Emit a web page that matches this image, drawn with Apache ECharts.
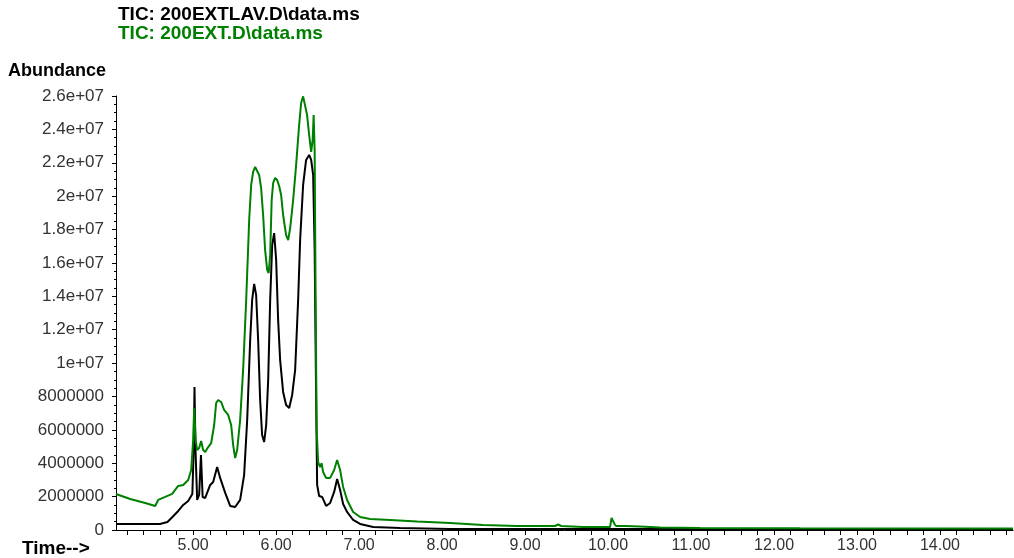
<!DOCTYPE html>
<html>
<head>
<meta charset="utf-8">
<script src="https://cdn.jsdelivr.net/npm/echarts@6/dist/echarts.min.js"></script>
<style>
  html, body { margin: 0; padding: 0; background: #fff; }
  #main { width: 1014px; height: 558px; }
</style>
</head>
<body>
<div id="main"></div>
<script>
// retention time (min) and abundance
var lavTime = [4.07, 4.36, 4.60, 4.69, 4.75, 4.82, 4.88, 4.94, 4.99,
  5.006, 5.016, 5.028, 5.048, 5.072, 5.094, 5.114, 5.145,
  5.205, 5.241, 5.289, 5.325, 5.386, 5.446, 5.506, 5.566,
  5.614, 5.651, 5.687, 5.711, 5.735, 5.759, 5.783, 5.807,
  5.831, 5.855, 5.880, 5.904, 5.928, 5.952, 5.976, 6.000,
  6.024, 6.048, 6.084, 6.120, 6.157, 6.193, 6.229, 6.265,
  6.289, 6.325, 6.361, 6.398, 6.422, 6.446, 6.464, 6.482,
  6.494, 6.518, 6.554, 6.602, 6.651, 6.699, 6.735, 6.771,
  6.807, 6.855, 6.928, 7.012, 7.169, 7.494, 8.096, 8.94, 14.88];
var lavAbund = [360000, 360000, 360000, 480000, 780000, 1140000, 1500000, 1740000, 2160000,
  4790000, 8570000, 4790000, 1800000, 2100000, 4490000, 1980000, 1920000,
  2700000, 2880000, 3770000, 3120000, 2220000, 1440000, 1380000, 1800000,
  3290000, 6590000, 11380000, 13780000, 14740000, 14080000, 11380000, 7790000,
  5690000, 5270000, 6290000, 8990000, 13780000, 17070000, 17790000, 16180000,
  12580000, 10180000, 8270000, 7490000, 7310000, 8090000, 9590000, 13780000,
  17370000, 20670000, 22170000, 22470000, 22170000, 21270000, 16770000, 7790000,
  2700000, 2040000, 1980000, 1440000, 1620000, 2280000, 3060000, 2400000,
  1560000, 1080000, 600000, 360000, 180000, 120000, 60000, 60000, 60000];

var extTime = [4.07, 4.241, 4.422, 4.542, 4.578, 4.663, 4.747, 4.819, 4.880, 4.940, 4.976,
  5.000, 5.012, 5.030, 5.048, 5.072, 5.096, 5.120, 5.145, 5.181, 5.217,
  5.253, 5.277, 5.301, 5.337, 5.373, 5.422, 5.458, 5.482, 5.506, 5.530,
  5.566, 5.602, 5.639, 5.675, 5.699, 5.723, 5.747, 5.771, 5.795, 5.819,
  5.843, 5.867, 5.892, 5.910, 5.928, 5.946, 5.964, 5.988, 6.012, 6.036,
  6.060, 6.084, 6.120, 6.145, 6.169, 6.205, 6.241, 6.277, 6.301, 6.325,
  6.349, 6.373, 6.398, 6.422, 6.440, 6.452, 6.464, 6.476, 6.488, 6.506,
  6.530, 6.548, 6.566, 6.602, 6.651, 6.699, 6.735, 6.771, 6.807, 6.855,
  6.928, 7.012, 7.133, 7.373, 7.699, 8.096, 8.494, 8.904, 9.361, 9.398,
  9.434, 9.699, 10.024, 10.042, 10.060, 10.078, 10.096, 10.205, 10.386, 10.627,
  11.11, 12.31, 14.88];
var extAbund = [2160000, 1860000, 1620000, 1440000, 1800000, 1980000, 2160000, 2640000, 2700000, 3000000, 3590000,
  5390000, 7310000, 5390000, 4790000, 4910000, 5330000, 4790000, 4670000, 4970000, 5210000,
  6290000, 7610000, 7790000, 7670000, 7190000, 6890000, 6290000, 5090000, 4310000, 4790000,
  6590000, 9590000, 13780000, 18570000, 20670000, 21450000, 21750000, 21690000, 21270000, 20490000,
  18870000, 16770000, 15580000, 15400000, 16470000, 19770000, 20790000, 21090000, 20970000, 20610000,
  20070000, 18870000, 17670000, 17370000, 18090000, 19770000, 21870000, 24260000, 25580000, 25980000,
  25880000, 24860000, 23660000, 22650000, 23360000, 24860000, 22770000, 13780000, 5990000, 4070000,
  3770000, 4010000, 3470000, 3120000, 3120000, 3590000, 4190000, 3590000, 2580000, 1800000,
  1080000, 780000, 660000, 600000, 510000, 420000, 300000, 240000, 240000, 330000,
  240000, 180000, 180000, 720000, 780000, 360000, 240000, 240000, 210000, 150000,
  120000, 100000, 90000];

var timeLabels = [5, 6, 7, 8, 9, 10, 11, 12, 13, 14];

var font = 'Liberation Sans, Arial, sans-serif';

// minor ticks every 0.2 min across the visible range
var timeTicks = [];
for (var k = 21; k <= 74; k++) timeTicks.push(k / 5);

function pairs(xs, ys) {
  return xs.map(function (x, i) { return [x, ys[i]]; });
}

var myChart = echarts.init(document.getElementById('main'));

var option = {
  animation: false,
  backgroundColor: '#fff',
  title: [
    { text: 'TIC: 200EXTLAV.D\\data.ms', left: 113, top: 0,
      textStyle: { fontFamily: font, fontSize: 19, fontWeight: 'bold', color: '#000' } },
    { text: 'TIC: 200EXT.D\\data.ms', left: 113, top: 19,
      textStyle: { fontFamily: font, fontSize: 19, fontWeight: 'bold', color: '#008000' } }
  ],
  graphic: [
    { type: 'text', left: 8, top: 62,
      style: { text: 'Abundance', font: 'bold 18px ' + font, fill: '#000' } },
    { type: 'text', left: 22, top: 539,
      style: { text: 'Time-->', font: 'bold 19px ' + font, fill: '#000' } }
  ],
  grid: { left: 116, right: 1, top: 96, bottom: 28 },
  xAxis: {
    type: 'value',
    min: 4.07,
    max: 14.88,
    axisLine: { lineStyle: { color: '#000', width: 1 } },
    axisTick: { show: true, customValues: timeTicks, length: 5, lineStyle: { color: '#000' } },
    axisLabel: {
      customValues: timeLabels,
      formatter: function (v) { return v.toFixed(2); },
      fontFamily: font, fontSize: 16, color: '#333', margin: 8
    },
    splitLine: { show: false }
  },
  yAxis: {
    type: 'value',
    min: 0,
    max: 26000000,
    interval: 2000000,
    axisLine: { show: true, lineStyle: { color: '#000', width: 1 } },
    axisTick: { show: true, length: 4, lineStyle: { color: '#000' } },
    minorTick: { show: true, splitNumber: 4, length: 2, lineStyle: { color: '#000' } },
    axisLabel: {
      formatter: function (v) {
        if (v >= 10000000) return (Math.round(v / 1000000) / 10) + 'e+07';
        return String(v);
      },
      fontFamily: font, fontSize: 17, color: '#333', margin: 12
    },
    splitLine: { show: false }
  },
  series: [
    {
      name: 'TIC: 200EXTLAV.D\\data.ms',
      type: 'line',
      data: pairs(lavTime, lavAbund),
      showSymbol: false,
      lineStyle: { color: '#000', width: 2 },
      z: 2
    },
    {
      name: 'TIC: 200EXT.D\\data.ms',
      type: 'line',
      data: pairs(extTime, extAbund),
      showSymbol: false,
      lineStyle: { color: '#008000', width: 2 },
      z: 3
    }
  ]
};

myChart.setOption(option);
</script>
</body>
</html>
